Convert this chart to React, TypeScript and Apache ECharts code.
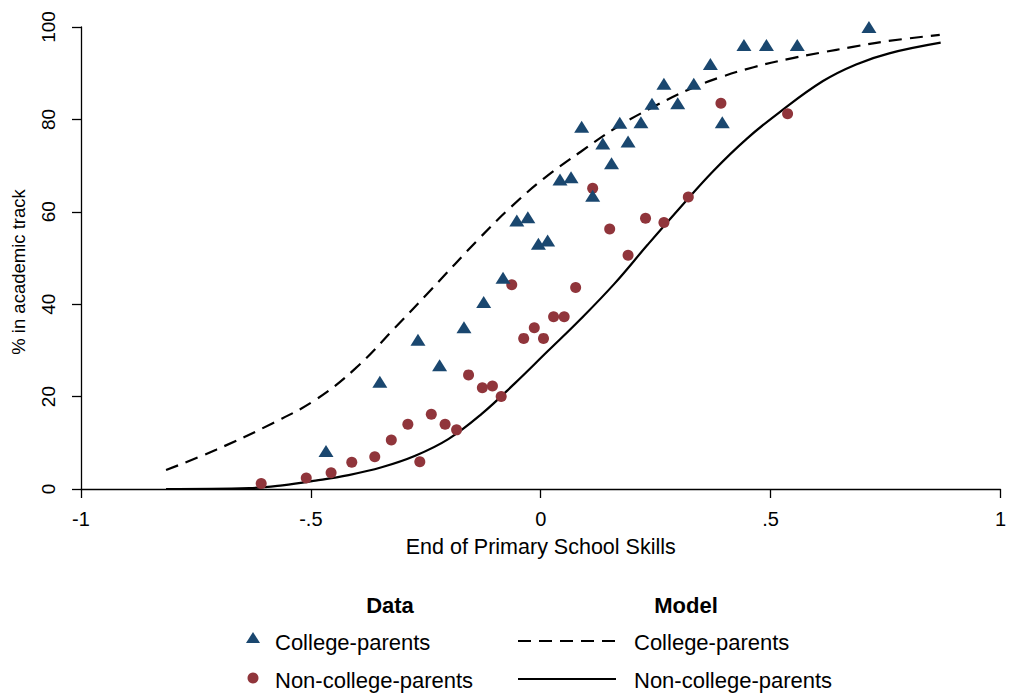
import React, { useEffect, useRef } from "react";
import * as echarts from "echarts";

// Data: college-parents (triangles)
const collegeX = [-0.467, -0.35, -0.267, -0.22, -0.167, -0.124, -0.082, -0.052, -0.028, -0.005, 0.015, 0.042, 0.066, 0.089, 0.113, 0.135, 0.154, 0.172, 0.19, 0.218, 0.242, 0.268, 0.298, 0.333, 0.369, 0.395, 0.442, 0.491, 0.558, 0.714];
const collegeY = [8.2, 23.2, 32.3, 26.8, 35.0, 40.5, 45.7, 58.1, 58.8, 53.1, 53.8, 67.0, 67.5, 78.4, 63.5, 74.8, 70.5, 79.3, 75.2, 79.4, 83.4, 87.7, 83.5, 87.7, 92.0, 79.4, 96.1, 96.1, 96.1, 100.0];

// Data: non-college-parents (circles)
const nonCollegeX = [-0.608, -0.51, -0.456, -0.411, -0.361, -0.325, -0.289, -0.263, -0.238, -0.208, -0.183, -0.157, -0.127, -0.105, -0.086, -0.063, -0.037, -0.014, 0.006, 0.028, 0.051, 0.076, 0.113, 0.15, 0.19, 0.228, 0.268, 0.321, 0.392, 0.537];
const nonCollegeY = [1.2, 2.4, 3.5, 5.8, 7.0, 10.6, 14.0, 5.9, 16.2, 14.0, 12.8, 24.7, 21.9, 22.3, 20.0, 44.2, 32.6, 34.9, 32.6, 37.3, 37.3, 43.6, 65.1, 56.3, 50.6, 58.6, 57.7, 63.2, 83.5, 81.2];

// Model: college-parents (dashed)
const modelCollegeX = [-0.815, -0.706, -0.584, -0.49, -0.403, -0.316, -0.237, -0.136, -0.064, 0.008, 0.087, 0.167, 0.239, 0.325, 0.39, 0.463, 0.535, 0.607, 0.679, 0.751, 0.868];
const modelCollegeY = [4.1, 8.5, 14.2, 19.3, 26.1, 35.0, 43.3, 54.0, 61.1, 67.3, 73.0, 78.4, 82.4, 86.6, 89.1, 91.3, 93.0, 94.4, 95.7, 96.9, 98.3];

// Model: non-college-parents (solid)
const modelNonCollegeX = [-0.815, -0.634, -0.562, -0.49, -0.418, -0.346, -0.273, -0.201, -0.129, -0.057, 0.015, 0.087, 0.16, 0.232, 0.304, 0.376, 0.448, 0.52, 0.614, 0.686, 0.758, 0.87];
const modelNonCollegeY = [0.0, 0.2, 0.8, 1.8, 3.0, 4.7, 7.2, 10.8, 16.2, 22.8, 29.8, 36.8, 44.4, 52.8, 61.0, 68.9, 75.8, 81.6, 88.3, 91.9, 94.3, 96.6];

const xTicks = [-1, -0.5, 0, 0.5, 1];
const yTicks = [0, 20, 40, 60, 80, 100];

const FONT = '"Liberation Sans", Arial, Helvetica, sans-serif';
const NAVY = "#1a476f";
const MAROON = "#90353b";

const zip = (xs: number[], ys: number[]) => xs.map((x, i) => [x, ys[i]]);

const fmtX = (v: number) => {
  if (v === 0) return "0";
  const s = String(Math.abs(v)).replace(/^0/, "");
  return (v < 0 ? "-" : "") + s;
};

export default function App() {
  const ref = useRef<HTMLDivElement>(null);
  useEffect(() => {
    if (!ref.current) return;
    const chart = echarts.init(ref.current, null, { renderer: "svg" });
    const legendFont = `22px ${FONT}`;
    const headFont = `bold 22px ${FONT}`;
    chart.setOption({
      animation: false,
      backgroundColor: "#ffffff",
      textStyle: { fontFamily: FONT, color: "#000" },
      grid: { left: 81, right: 4, top: 27, bottom: 205, containLabel: false },
      xAxis: {
        type: "value",
        min: xTicks[0],
        max: xTicks[xTicks.length - 1],
        interval: 0.5,
        name: "End of Primary School Skills",
        nameLocation: "middle",
        nameGap: 47,
        nameTextStyle: { fontSize: 21.5, color: "#000", fontFamily: FONT },
        axisLine: { onZero: false, lineStyle: { color: "#000", width: 1.3 } },
        axisTick: { show: true, length: 9, lineStyle: { color: "#000", width: 1.3 } },
        axisLabel: { formatter: fmtX, fontSize: 20, color: "#000", margin: 20, fontFamily: FONT },
        splitLine: { show: false },
      },
      yAxis: {
        type: "value",
        min: yTicks[0],
        max: yTicks[yTicks.length - 1],
        interval: 20,
        axisLine: { show: true, onZero: false, lineStyle: { color: "#000", width: 1.3 } },
        axisTick: { show: true, length: 9, lineStyle: { color: "#000", width: 1.3 } },
        axisLabel: { rotate: 90, fontSize: 19, color: "#000", margin: 23, fontFamily: FONT },
        splitLine: { show: false },
      },
      series: [
        {
          name: "Model College-parents",
          type: "line",
          data: zip(modelCollegeX, modelCollegeY),
          showSymbol: false,
          symbol: "none",
          smooth: 0.4,
          lineStyle: { color: "#000", width: 2.2, type: [13, 8] },
          z: 2,
        },
        {
          name: "Model Non-college-parents",
          type: "line",
          data: zip(modelNonCollegeX, modelNonCollegeY),
          showSymbol: false,
          symbol: "none",
          smooth: 0.4,
          lineStyle: { color: "#000", width: 2.2 },
          z: 2,
        },
        {
          name: "Data Non-college-parents",
          type: "scatter",
          data: zip(nonCollegeX, nonCollegeY),
          symbol: "circle",
          symbolSize: 11,
          itemStyle: { color: MAROON, opacity: 1 },
          z: 3,
        },
        {
          name: "Data College-parents",
          type: "scatter",
          data: zip(collegeX, collegeY),
          symbol: "triangle",
          symbolSize: [15, 12],
          itemStyle: { color: NAVY, opacity: 1 },
          z: 4,
        },
      ],
      graphic: [
        { type: "text", x: 18, y: 272, rotation: Math.PI / 2, style: { text: "% in academic track", font: `18.5px ${FONT}`, fill: "#000", align: "center", verticalAlign: "middle" } },
        { type: "text", x: 390, y: 605, style: { text: "Data", font: headFont, fill: "#000", align: "center", verticalAlign: "middle" } },
        { type: "text", x: 686, y: 605, style: { text: "Model", font: headFont, fill: "#000", align: "center", verticalAlign: "middle" } },
        { type: "polygon", shape: { points: [[246, 643], [260, 643], [253, 632]] }, style: { fill: NAVY } },
        { type: "circle", shape: { cx: 253, cy: 678, r: 5.5 }, style: { fill: MAROON } },
        { type: "text", x: 275, y: 642, style: { text: "College-parents", font: legendFont, fill: "#000", align: "left", verticalAlign: "middle" } },
        { type: "text", x: 275, y: 680, style: { text: "Non-college-parents", font: legendFont, fill: "#000", align: "left", verticalAlign: "middle" } },
        { type: "line", shape: { x1: 518, y1: 641, x2: 616, y2: 641 }, style: { stroke: "#000", lineWidth: 2, lineDash: [13, 8] } },
        { type: "line", shape: { x1: 518, y1: 679, x2: 616, y2: 679 }, style: { stroke: "#000", lineWidth: 2 } },
        { type: "text", x: 634, y: 642, style: { text: "College-parents", font: legendFont, fill: "#000", align: "left", verticalAlign: "middle" } },
        { type: "text", x: 634, y: 680, style: { text: "Non-college-parents", font: legendFont, fill: "#000", align: "left", verticalAlign: "middle" } },
      ],
    });
    return () => chart.dispose();
  }, []);
  return (
    <div
      ref={ref}
      style={{ position: "fixed", left: 0, top: 0, width: 1009, height: 694, background: "#fff" }}
    />
  );
}
